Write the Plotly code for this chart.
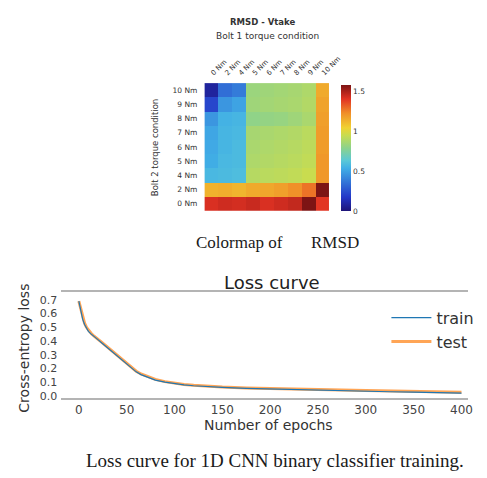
import plotly.graph_objects as go

# ---- RMSD colormap data (bolt 1 condition on x, bolt 2 condition on y) ----
torque_labels = ["0 Nm", "2 Nm", "4 Nm", "5 Nm", "6 Nm", "7 Nm", "8 Nm", "9 Nm", "10 Nm"]
rmsd = [
    [1.42, 1.44, 1.43, 1.45, 1.42, 1.44, 1.46, 1.60, 1.40],  # 0 Nm
    [1.13, 1.14, 1.12, 1.15, 1.16, 1.18, 1.22, 1.28, 1.58],  # 2 Nm
    [0.57, 0.58, 0.59, 0.90, 0.91, 0.92, 0.93, 0.95, 1.20],  # 4 Nm
    [0.53, 0.57, 0.58, 0.88, 0.89, 0.90, 0.91, 0.93, 1.20],  # 5 Nm
    [0.52, 0.56, 0.58, 0.87, 0.88, 0.89, 0.90, 0.92, 1.19],  # 6 Nm
    [0.51, 0.56, 0.57, 0.86, 0.87, 0.88, 0.89, 0.91, 1.19],  # 7 Nm
    [0.46, 0.55, 0.56, 0.80, 0.81, 0.82, 0.84, 0.87, 1.18],  # 8 Nm
    [0.22, 0.46, 0.50, 0.84, 0.85, 0.86, 0.87, 0.89, 1.17],  # 9 Nm
    [0.08, 0.34, 0.38, 0.83, 0.84, 0.85, 0.86, 0.88, 1.15],  # 10 Nm
]
cbar_ticks = [0, 0.5, 1, 1.5]

# ---- loss curve data ----
epochs = [0, 2, 4, 6, 8, 10, 13, 16, 20, 25, 30, 35, 40, 45, 50, 55, 60, 65, 70,
          80, 90, 100, 110, 120, 135, 150, 175, 200, 225, 250, 275, 300, 325,
          350, 375, 400]
train_loss = [0.69, 0.62, 0.56, 0.52, 0.49, 0.47, 0.45, 0.43, 0.41, 0.38, 0.35,
              0.32, 0.29, 0.26, 0.23, 0.20, 0.175, 0.155, 0.14, 0.115, 0.10,
              0.088, 0.080, 0.074, 0.067, 0.062, 0.055, 0.050, 0.046, 0.042,
              0.038, 0.034, 0.030, 0.027, 0.023, 0.020]
test_loss = [0.69, 0.63, 0.57, 0.53, 0.50, 0.48, 0.455, 0.435, 0.415, 0.385, 0.355,
             0.325, 0.295, 0.265, 0.235, 0.205, 0.18, 0.16, 0.145, 0.12, 0.104,
             0.092, 0.083, 0.077, 0.070, 0.064, 0.058, 0.053, 0.049, 0.046,
             0.043, 0.040, 0.036, 0.033, 0.029, 0.026]

# jet-like colormap with softened tones
soft_jet = [
    [0.0, "rgb(30,20,120)"], [0.11, "rgb(35,55,200)"], [0.34, "rgb(65,175,230)"],
    [0.40, "rgb(90,200,215)"], [0.50, "rgb(140,210,140)"], [0.60, "rgb(200,220,80)"],
    [0.66, "rgb(240,210,50)"], [0.78, "rgb(240,140,40)"], [0.89, "rgb(225,50,35)"],
    [1.0, "rgb(125,20,20)"],
]

fig = go.Figure()

fig.add_trace(go.Heatmap(
    z=rmsd, x=torque_labels, y=torque_labels, colorscale=soft_jet,
    zmin=0, zmax=1.58, xaxis="x", yaxis="y",
    colorbar=dict(x=350 / 487, xanchor="left", xpad=0, ypad=0,
                  y=1 - 149.5 / 478, yanchor="middle",
                  len=127 / 478, lenmode="fraction", thickness=10,
                  tickvals=cbar_ticks, ticktext=[str(t) for t in cbar_ticks],
                  tickfont=dict(size=7.5, color="#333", family="DejaVu Sans"),
                  outlinewidth=0, ticks=""),
))

fig.add_trace(go.Scatter(
    x=epochs, y=test_loss, mode="lines", name="test", legendrank=2,
    line=dict(color="#ff7f0e", width=3), opacity=0.7,
    xaxis="x2", yaxis="y2",
))
fig.add_trace(go.Scatter(
    x=epochs, y=train_loss, mode="lines", name="train", legendrank=1,
    line=dict(color="#1f77b4", width=1.2),
    xaxis="x2", yaxis="y2",
))

font_sans = "'DejaVu Sans', sans-serif"
font_serif = "'Liberation Serif', 'DejaVu Serif', serif"

fig.update_layout(
    width=487, height=478, margin=dict(l=0, r=0, t=0, b=0),
    paper_bgcolor="white", plot_bgcolor="white",
    font=dict(family=font_sans, color="#333"),
    xaxis=dict(domain=[210 / 487, 338 / 487], side="top", tickangle=-45,
               tickfont=dict(size=7), ticks="", showgrid=False, anchor="y",
               ticklabelstandoff=4),
    yaxis=dict(domain=[1 - 213 / 478, 1 - 84 / 478], tickfont=dict(size=7.5), ticks="",
               showgrid=False, anchor="x", ticklabelstandoff=6),
    xaxis2=dict(domain=[63 / 487, 481 / 487], range=[-18.3, 407], anchor="y2",
                tickvals=[0, 50, 100, 150, 200, 250, 300, 350, 400],
                tickfont=dict(size=12, color="#444"), showgrid=False,
                showline=True, linecolor="#b4b4b4", linewidth=2, mirror=True,
                ticks="", zeroline=False, ticklabelstandoff=0),
    yaxis2=dict(domain=[1 - 402 / 478, 1 - 295 / 478], range=[-0.014, 0.758], anchor="x2",
                tickvals=[0, 0.1, 0.2, 0.3, 0.4, 0.5, 0.6, 0.7], tickformat=".1f",
                tickfont=dict(size=11, color="#444"), showgrid=False,
                showline=False, ticks="", zeroline=False, ticklabelstandoff=3),
    showlegend=True,
    legend=dict(x=397 / 487, xanchor="left", y=1 - 304 / 478, yanchor="top",
                font=dict(size=16, color="#333"), bgcolor="rgba(255,255,255,0)",
                borderwidth=0, itemwidth=40),
)

annotations = [
    dict(text="<b>RMSD - Vtake</b>", x=270 / 487, y=1 - 22 / 478, font=dict(size=8.5, color="#333")),
    dict(text="Bolt 1 torque condition", x=275 / 487, y=1 - 36 / 478, font=dict(size=9, color="#333")),
    dict(text="Bolt 2 torque condition", x=160 / 487, y=1 - 149 / 478, textangle=-90,
         font=dict(size=8.5, color="#333")),
    dict(text="Colormap of", x=246 / 487, y=1 - 245 / 478,
         font=dict(size=17, family=font_serif, color="#1a1a1a")),
    dict(text="RMSD", x=344 / 487, y=1 - 245 / 478,
         font=dict(size=17, family=font_serif, color="#1a1a1a")),
    dict(text="Loss curve", x=279 / 487, y=1 - 285 / 478, font=dict(size=18, color="#222")),
    dict(text="Cross-entropy loss", x=25 / 487, y=1 - 352 / 478, textangle=-90,
         font=dict(size=14, color="#333")),
    dict(text="Number of epochs", x=276 / 487, y=1 - 429 / 478, font=dict(size=14, color="#333")),
    dict(text="Loss curve for 1D CNN binary classifier training.", x=283 / 487, y=1 - 465 / 478,
         font=dict(size=19, family=font_serif, color="#1a1a1a")),
]
for a in annotations:
    a.update(xref="paper", yref="paper", showarrow=False, xanchor="center", yanchor="middle")
fig.update_layout(annotations=annotations)

fig.write_html("out.html")
